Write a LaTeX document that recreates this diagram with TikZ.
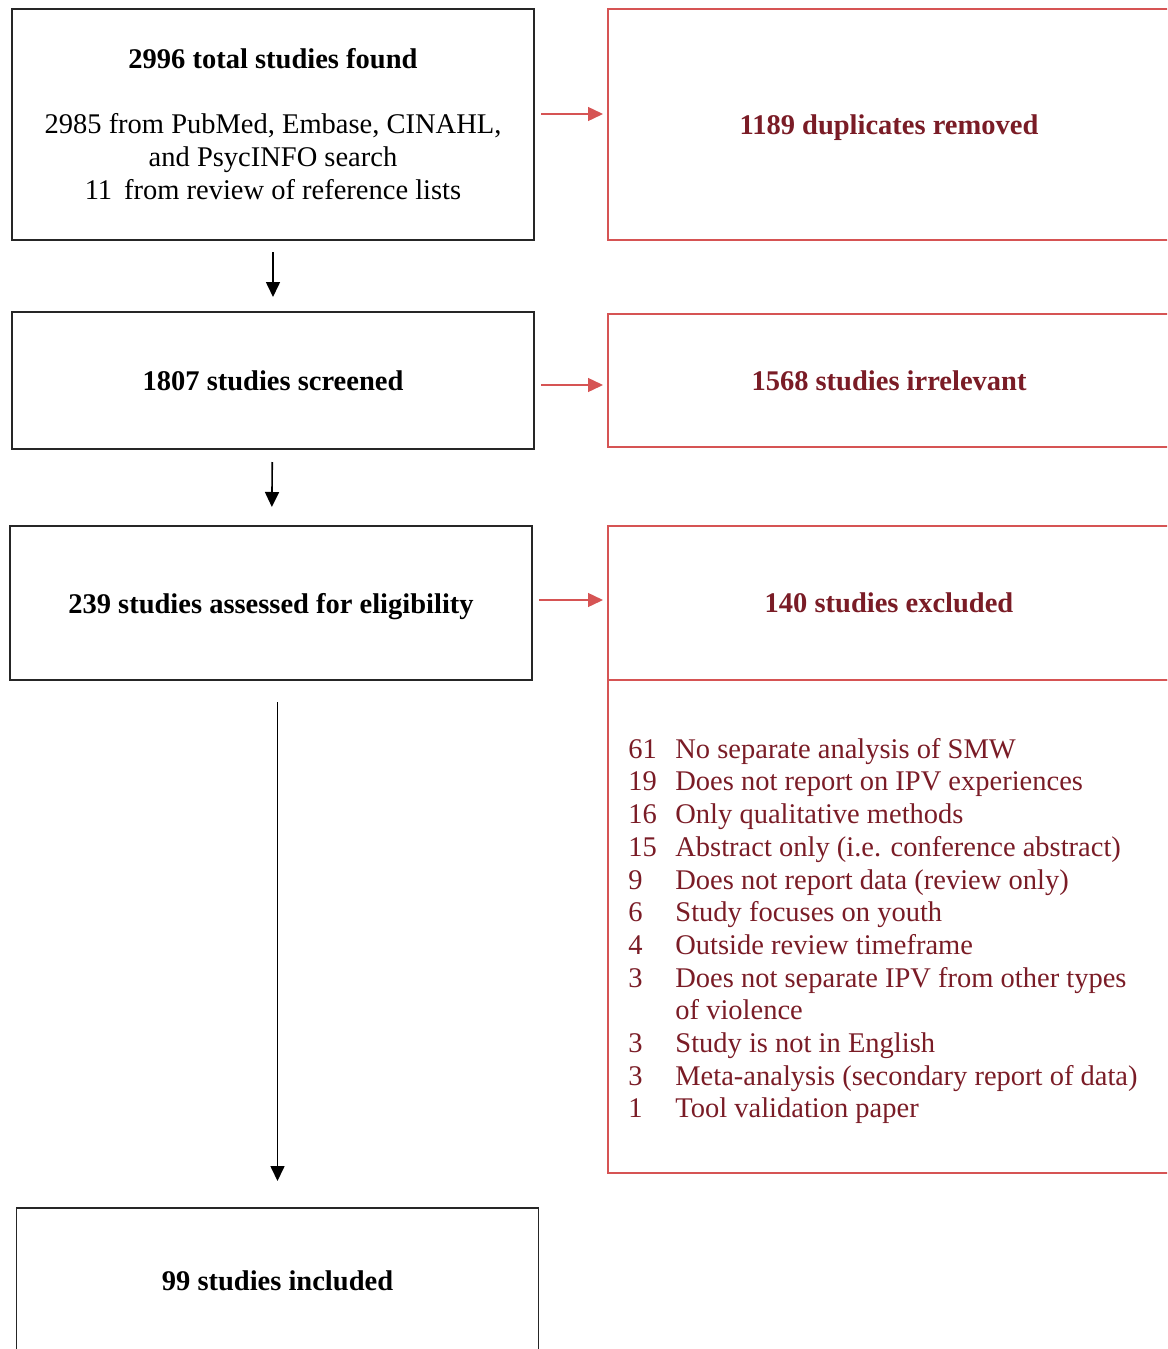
\documentclass[tikz,border=0pt]{standalone}
\usepackage{fontspec}
\setmainfont{Liberation Serif}
\usetikzlibrary{arrows.meta,positioning}
\definecolor{boxred}{RGB}{214,84,84}
\definecolor{textred}{RGB}{122,28,38}

\begin{document}
\begin{tikzpicture}[x=0.5pt,y=-0.5pt,>={Triangle[length=7.5pt,width=7pt]},
    box/.style={draw=black!85,line width=0.8pt,minimum width=261pt,inner sep=0pt,outer sep=0pt,
      align=center,font=\fontsize{14.25}{16.5}\selectfont},
    boldbox/.style={box,text depth=0pt,font=\fontsize{14.25}{16.5}\selectfont\bfseries},
    outbox/.style={draw=boxred,line width=0.7pt,minimum width=281pt,inner sep=0pt,outer sep=0pt,
      align=center,text=textred,text depth=0pt,font=\fontsize{14.25}{16.5}\selectfont\bfseries}]
    \clip (0,0) rectangle (1167,1349);

    % left column
    \node[box,minimum height=115.5pt] (found) at (273,124.5)
      {\textbf{2996 total studies found}\\[16pt]
       2985 from PubMed, Embase, CINAHL,\\ and PsycINFO search\\ 11\,\ from review of reference lists};
    \node[boldbox,minimum height=68.5pt] (screened) [below=36pt of found] {1807 studies screened};
    \node[boldbox,minimum height=77pt] (assessed) [below=38.5pt of screened,xshift=-1pt]
      {239 studies assessed for eligibility};
    \node[boldbox,minimum height=73pt] (included) [below=264pt of assessed,xshift=3.25pt]
      {99 studies included};

    % right column
    \node[outbox,minimum height=115.5pt] (duplicates) [right=37pt of found] {1189 duplicates removed};
    \node[outbox,minimum height=66.5pt] (irrelevant) [right=37pt of screened] {1568 studies irrelevant};
    \node[outbox,minimum height=77pt] (excluded) [right=38pt of assessed] {140 studies excluded};
    \node[outbox,minimum height=246.5pt] (reasons) [below=0pt of excluded] {};
    \node[anchor=west,inner sep=0pt,text=textred,font=\fontsize{14.25}{16.35}\selectfont] (reasonlist)
      at ([xshift=10pt,yshift=-2.5pt]reasons.west)
      {\begin{tabular}{@{}p{23.5pt}@{}l@{}}
        61 & No separate analysis of SMW\\
        19 & Does not report on IPV experiences\\
        16 & Only qualitative methods\\
        15 & Abstract only (i.e. conference abstract)\\
        9  & Does not report data (review only)\\
        6  & Study focuses on youth\\
        4  & Outside review timeframe\\
        3  & Does not separate IPV from other types\\
           & of violence\\
        3  & Study is not in English\\
        3  & Meta-analysis (secondary report of data)\\
        1  & Tool validation paper
       \end{tabular}};

    \path[->,line width=0.8pt]
      (found) edge[shorten <=6pt,shorten >=7.5pt] (screened)
      (screened) edge[shorten <=6.5pt,shorten >=9.5pt] (assessed)
      (assessed.south -| included) edge[shorten <=11pt,shorten >=13.5pt] (included);

    \path[->,color=boxred,line width=0.7pt,shorten <=3.5pt,shorten >=2.5pt]
      ([yshift=5.25pt]found.east) edge ([yshift=5.25pt]duplicates.west)
      ([yshift=-2.25pt]screened.east) edge ([yshift=-2.25pt]irrelevant.west)
      ([yshift=1.5pt]assessed.east) edge ([yshift=1.5pt]excluded.west);
  \end{tikzpicture}
\end{document}
